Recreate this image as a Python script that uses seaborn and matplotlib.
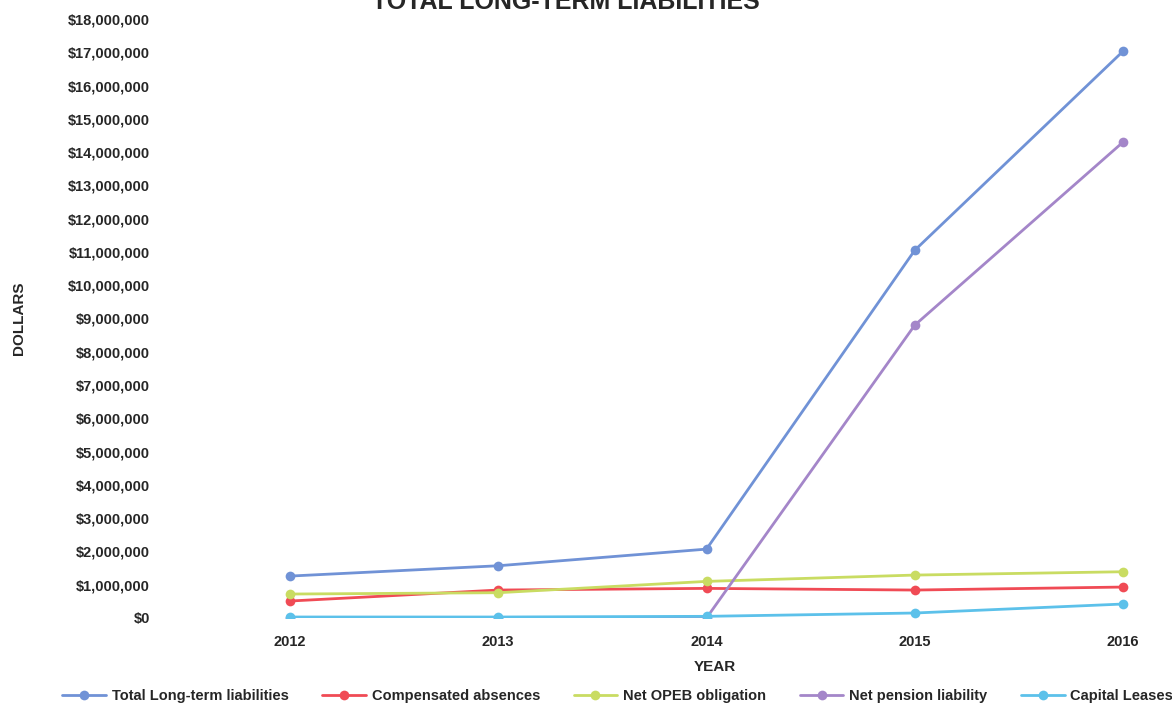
import matplotlib
matplotlib.use("Agg")
import matplotlib.pyplot as plt
import seaborn as sns
import pandas as pd
from matplotlib.ticker import FuncFormatter, MultipleLocator

# Long-term liabilities by fiscal year (dollars)
years = ["2012", "2013", "2014", "2015", "2016"]
total_long_term = [1260000, 1570000, 2070000, 11050000, 17030000]
compensated_absences = [510000, 840000, 890000, 840000, 930000]
net_opeb_obligation = [720000, 760000, 1100000, 1290000, 1390000]
net_pension_liability = [0, 0, 0, 8800000, 14300000]
capital_leases = [30000, 30000, 50000, 150000, 420000]

series_names = [
    "Total Long-term liabilities",
    "Compensated absences",
    "Net OPEB obligation",
    "Net pension liability",
    "Capital Leases",
]
series_values = [
    total_long_term,
    compensated_absences,
    net_opeb_obligation,
    net_pension_liability,
    capital_leases,
]
colors = ["#7092d6", "#f04b55", "#c9dc62", "#a486c9", "#5cc1ea"]

rows = []
for name, vals in zip(series_names, series_values):
    for i, (yr, v) in enumerate(zip(years, vals)):
        rows.append({"pos": i, "year": yr, "value": v, "series": name})
df = pd.DataFrame(rows)

sns.set_style("white")
plt.rcParams["font.family"] = ["Liberation Sans", "DejaVu Sans"]

W, H = 1172, 706
fig = plt.figure(figsize=(W / 100, H / 100), dpi=100)
ax_left, ax_right, ax_top, ax_bottom = 175, 1165, 19, 618
ax = fig.add_axes([ax_left / W, (H - ax_bottom) / H,
                   (ax_right - ax_left) / W, (ax_bottom - ax_top) / H])

sns.lineplot(
    data=df, x="pos", y="value", hue="series", hue_order=series_names,
    palette=colors, marker="o", markersize=7, markeredgewidth=0,
    linewidth=2, ax=ax, legend=True,
)

ax.set_ylim(0, 18000000)
px_per_unit = 208.25
ax.set_xlim(-(290 - ax_left) / px_per_unit, 4 + (ax_right - 1123) / px_per_unit)
ax.yaxis.set_major_locator(MultipleLocator(1000000))
ax.yaxis.set_major_formatter(FuncFormatter(lambda v, p: f"${v:,.0f}"))
ax.set_xticks(range(len(years)))
ax.set_xticklabels(years)
for s in ax.spines.values():
    s.set_visible(False)
ax.tick_params(axis="both", length=0, labelsize=10.5)
ax.tick_params(axis="y", pad=18)
ax.tick_params(axis="x", pad=12)
for lab in ax.get_xticklabels() + ax.get_yticklabels():
    lab.set_fontweight("bold")

ax.set_xlabel("YEAR", fontsize=11, fontweight="bold")
ax.xaxis.set_label_coords((715 - ax_left) / (ax_right - ax_left), -0.07)
ax.set_ylabel("DOLLARS", fontsize=11, fontweight="bold")
ax.yaxis.set_label_coords(-(ax_left - 26) / (ax_right - ax_left), 0.5)

fig.text(566 / W, (H - 9) / H, "TOTAL LONG-TERM LIABILITIES", ha="center",
         va="baseline", fontsize=18, fontweight="bold")

handles, labels = ax.get_legend_handles_labels()
ax.legend_.remove()
leg = fig.legend(
    handles, labels, loc="center left", bbox_to_anchor=(62 / W, (H - 696) / H),
    ncol=5, frameon=False, handlelength=3, columnspacing=2.3,
    handletextpad=0.4, borderaxespad=0, borderpad=0,
    prop={"weight": "bold", "size": 10.5},
)

fig.savefig("out.png", dpi=100)
